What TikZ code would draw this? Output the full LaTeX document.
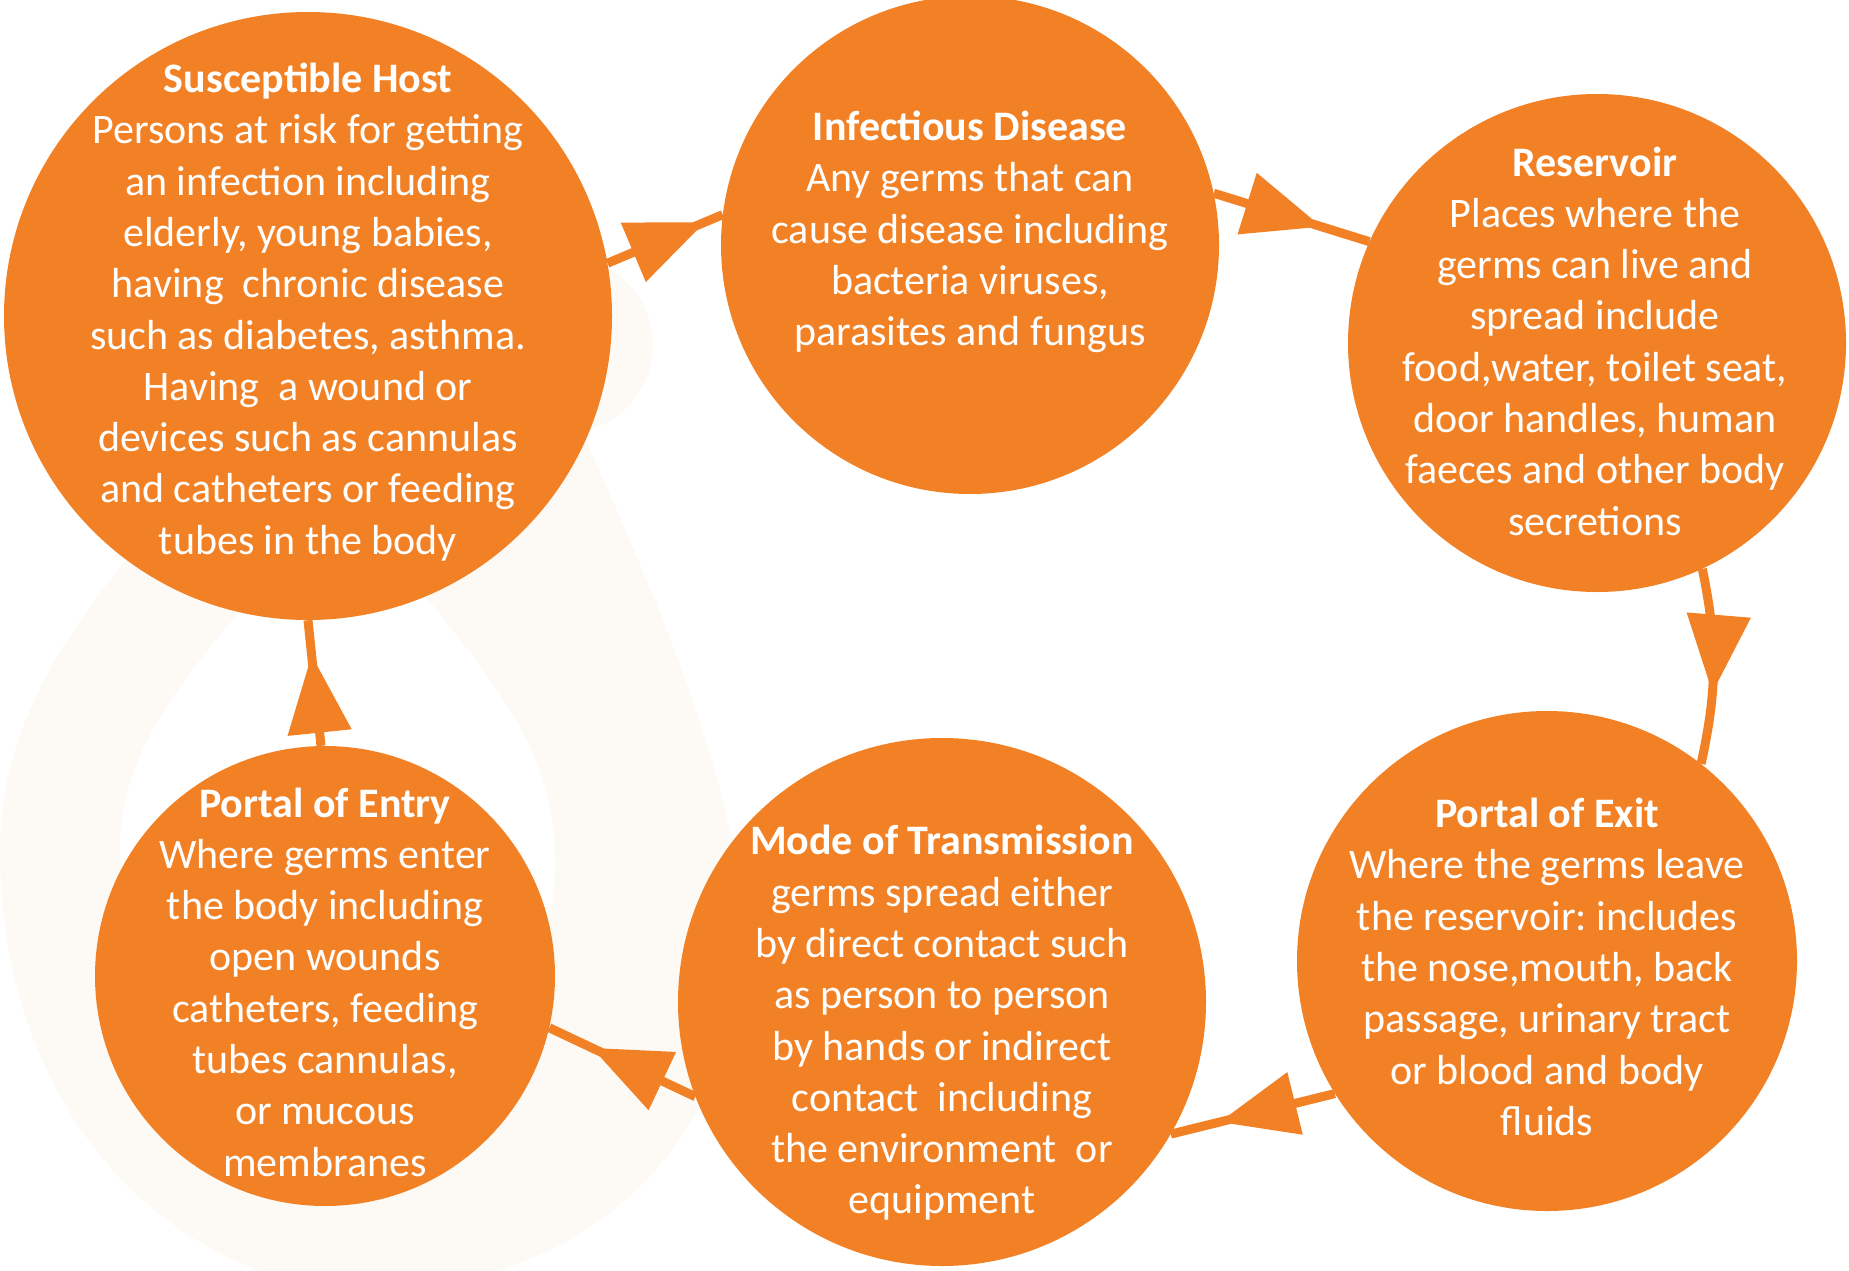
\documentclass[tikz,border=0pt]{standalone}
\usepackage{fontspec}
\setmainfont{Carlito}
\usepackage{xcolor}
\usetikzlibrary{arrows.meta,decorations.markings}
\frenchspacing

\definecolor{germorange}{RGB}{242,129,38}
\definecolor{wmark}{RGB}{253,250,246}

\tikzset{
  blob/.style={circle, fill=germorange, inner sep=0pt},
  blurb/.style={align=center, text=white, inner sep=0pt, font=\fontsize{42pt}{51.3pt}\selectfont},
  link/.style={color=germorange, line width=9pt},
  tipat/.style={postaction={decorate}, decoration={markings,
      mark=at position -#1 with {\arrow{Triangle[length=78pt,width=62pt]}}}}
}

\begin{document}
\begin{tikzpicture}[x=1pt, y=-1pt]
  \useasboundingbox (0,0) rectangle (1849,1271);

  % faint logo behind the left side
  \fill[wmark, even odd rule] (470,150) .. controls (380,380) and (0,560) .. (0,850)
      .. controls (0,1120) and (180,1290) .. (370,1290)
      .. controls (600,1290) and (760,1120) .. (740,900)
      .. controls (720,680) and (560,420) .. (470,150) -- cycle
      (340,470) .. controls (260,620) and (120,700) .. (120,850)
      .. controls (120,1000) and (220,1100) .. (340,1100)
      .. controls (460,1100) and (560,1000) .. (555,850)
      .. controls (550,700) and (420,620) .. (340,470) -- cycle;
  \fill[wmark] (565,345) circle (88);

  % the six links of the chain
  \node[blob, minimum size=608pt] (host)   at (308,316)  {};
  \node[blob, minimum size=498pt] (infect) at (970,245)  {};
  \node[blob, minimum size=498pt] (reserv) at (1597,343) {};
  \node[blob, minimum size=500pt] (exit)   at (1547,961) {};
  \node[blob, minimum size=528pt] (mode)   at (942,1002) {};
  \node[blob, minimum size=460pt] (entry)  at (325,976)  {};

  \foreach \src/\dst/\gap/\bnd in {host.10/infect.173/19pt/0,
                                   infect.12/reserv.156/50pt/0,
                                   reserv.-65/exit.52/72pt/12,
                                   exit.212/mode.-30/50pt/0,
                                   mode.201/entry.-13/47pt/0,
                                   entry.91/host.-90/35pt/0}
    \draw[link, tipat=\gap] (\src) to[bend left=\bnd] (\dst);

  \node[blurb] (host-t) at (308,312) {\textbf{Susceptible Host}\\
    Persons at risk for getting\\ an infection including\\ elderly, young babies,\\
    having~ chronic disease\\ such as diabetes, asthma.\\ Having~ a wound or\\
    devices such as cannulas\\ and catheters or feeding\\ tubes in the body};
  \node[blurb] (infect-t) at (970,232) {\textbf{Infectious Disease}\\
    Any germs that can\\ cause disease including\\ bacteria viruses,\\ parasites and fungus};
  \node[blurb] (reserv-t) at (1595,341) {\textbf{Reservoir}\\
    Places where the\\ germs can live and\\ spread include\\ food,water, toilet seat,\\
    door handles, human\\ faeces and other body\\ secretions};
  \node[blurb] (exit-t) at (1547,967) {\textbf{Portal of Exit}\\
    Where the germs leave\\ the reservoir: includes\\ the nose,mouth, back\\
    passage, urinary tract\\ or blood and body\\ fluids};
  \node[blurb] (mode-t) at (942,1023) {\textbf{Mode of Transmission}\\
    germs spread either\\ by direct contact such\\ as person to person\\
    by hands or indirect\\ contact~ including\\ the environment~ or\\ equipment};
  \node[blurb] (entry-t) at (325,982) {\textbf{Portal of Entry}\\
    Where germs enter\\ the body including\\ open wounds\\ catheters, feeding\\
    tubes cannulas,\\ or mucous\\ membranes};
\end{tikzpicture}
\end{document}
